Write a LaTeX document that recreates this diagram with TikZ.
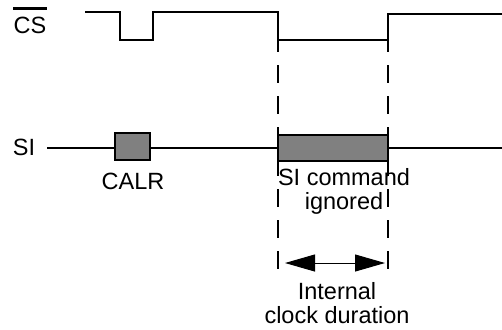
\documentclass[tikz,border=0pt]{standalone}
\usepackage{fontspec}
\setmainfont{Liberation Sans}
\usepackage{tikz}
\usetikzlibrary{arrows.meta}
\definecolor{pulsegray}{RGB}{128,128,128}
\begin{document}
\begin{tikzpicture}[x=1bp,y=-1bp]
    %styles
    \tikzstyle{lbl}=[inner sep=0pt,font=\fontsize{23.5bp}{24.5bp}\selectfont]
    \tikzstyle{pulse}=[rectangle,draw,line width=2bp,fill=pulsegray,inner sep=0pt]
    \tikzstyle{sig}=[line width=2.5bp]
    \tikzstyle{guide}=[line width=2.5bp,dash pattern=on 18bp off 13bp]
    \tikzstyle{dur}=[{Triangle[length=30bp,width=17bp]}-{Triangle[length=30bp,width=17bp]},line width=1bp]
    \useasboundingbox (0,0) rectangle (502,329);
    %labels
    \node[lbl,anchor=base] (cs) at (30,33) {CS};
    \node[lbl,anchor=base] (si) at (24,155) {SI};
    \coordinate (sil) at (47,148);
    \coordinate (sir) at (502,148);
    %waveforms
    \draw[sig] ([yshift=8bp]cs.north west) -- ([yshift=8bp]cs.north east);
    \draw[sig] (85,12) -| (120,40) -| (153,12) -| (278,40) -| (388,14) -- (502,14);
    \draw[guide] (278,34) -- (278,272);
    \draw[guide] (388,34) -- (388,272);
    \draw[line width=2bp] (sil) -- (sir);
    %pulses
    \node[pulse,minimum width=35bp,minimum height=27bp] (calr) at (132.5,146.5) {};
    \node[pulse,minimum width=110bp,minimum height=26bp] (cmd) at (333,148) {};
    \node[lbl,anchor=base] (calrt) at (133,189) {CALR};
    \node[lbl,anchor=north,align=center] (cmdt) at (344,168) {SI command\\ignored};
    %duration
    \coordinate (durl) at (285,263);
    \coordinate (durr) at (385,263);
    \draw[dur] (durl) -- (durr);
    \node[lbl,anchor=north,align=center] (durt) at (337,282) {Internal\\clock duration};
\end{tikzpicture}
\end{document}
